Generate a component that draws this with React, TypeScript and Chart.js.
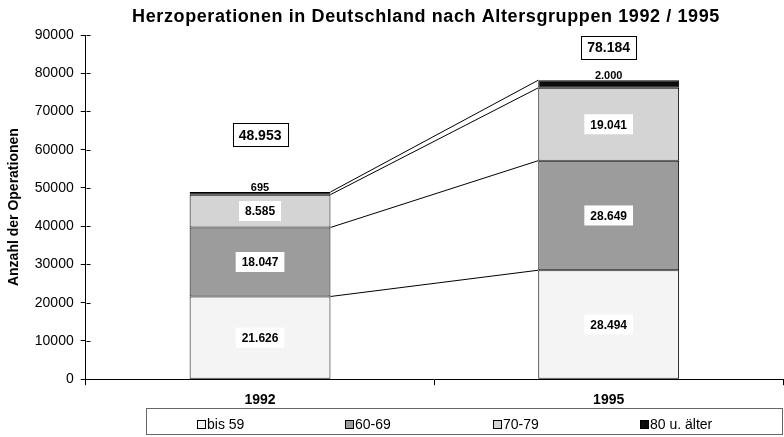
import React, { useEffect, useRef } from "react";
import { Chart, registerables } from "chart.js";

Chart.register(...registerables);

const categories = ["1992", "1995"];
const seriesLabels = ["bis 59", "60-69", "70-79", "80 u. älter"];
const bis59 = [21626, 28494];
const age6069 = [18047, 28649];
const age7079 = [8585, 19041];
const age80 = [695, 2000];
const totals = [48953, 78184];
const seriesColors = ["#f4f4f4", "#9c9c9c", "#d4d4d4", "#0c0c0c"];

const FONT = "'Liberation Sans', Arial, sans-serif";

const fmt = (v: number) => String(v).replace(/\B(?=(\d{3})+(?!\d))/g, ".");

const overlay = {
  id: "overlay",
  afterDatasetsDraw(chart: any) {
    const ctx = chart.ctx as CanvasRenderingContext2D;
    const area = chart.chartArea;
    const yScale = chart.scales.y;
    const n = chart.data.datasets.length;
    ctx.save();
    ctx.strokeStyle = "#000";
    ctx.lineWidth = 1;
    for (let i = 0; i < n; i++) {
      const meta = chart.getDatasetMeta(i);
      const a = meta.data[0].getProps(["x", "y", "width"], true);
      const b = meta.data[1].getProps(["x", "y", "width"], true);
      ctx.beginPath();
      ctx.moveTo(a.x + a.width / 2, a.y);
      ctx.lineTo(b.x - b.width / 2, b.y);
      ctx.stroke();
    }
    for (let i = 0; i < n; i++) {
      const meta = chart.getDatasetMeta(i);
      const vals = chart.data.datasets[i].data as number[];
      meta.data.forEach((el: any, j: number) => {
        const p = el.getProps(["x", "y", "base"], true);
        const txt = fmt(vals[j]);
        if (i < n - 1) {
          ctx.font = `bold 12px ${FONT}`;
          const w = ctx.measureText(txt).width + 12;
          const h = 20;
          const cy = (p.y + p.base) / 2;
          ctx.fillStyle = "#fff";
          ctx.fillRect(p.x - w / 2, cy - h / 2, w, h);
          ctx.fillStyle = "#000";
          ctx.textAlign = "center";
          ctx.textBaseline = "middle";
          ctx.fillText(txt, p.x, cy + 1);
        } else {
          ctx.font = `bold 11px ${FONT}`;
          ctx.fillStyle = "#000";
          ctx.textAlign = "center";
          ctx.textBaseline = "bottom";
          ctx.fillText(txt, p.x, p.y + 1);
        }
      });
    }
    const topMeta = chart.getDatasetMeta(n - 1);
    const offsets = [57, 33];
    topMeta.data.forEach((el: any, j: number) => {
      const p = el.getProps(["x", "y"], true);
      const txt = fmt(totals[j]);
      ctx.font = `bold 14px ${FONT}`;
      const w = Math.round(ctx.measureText(txt).width + 12);
      const h = 23;
      const cy = p.y - offsets[j];
      const lx = Math.round(p.x - w / 2) + 0.5;
      const ty = Math.round(cy - h / 2) + 0.5;
      ctx.fillStyle = "#fff";
      ctx.fillRect(lx, ty, w, h);
      ctx.strokeStyle = "#000";
      ctx.lineWidth = 1;
      ctx.strokeRect(lx, ty, w, h);
      ctx.fillStyle = "#000";
      ctx.textAlign = "center";
      ctx.textBaseline = "middle";
      ctx.fillText(txt, p.x, cy + 1);
    });
    const ax = Math.round(area.left) + 0.5;
    ctx.strokeStyle = "#000";
    yScale.ticks.forEach((t: any) => {
      const yy = Math.round(yScale.getPixelForValue(t.value)) + 0.5;
      ctx.beginPath();
      ctx.moveTo(ax, yy);
      ctx.lineTo(ax + 4, yy);
      ctx.stroke();
    });
    ctx.restore();
  },
  afterDraw(chart: any) {
    const ctx = chart.ctx as CanvasRenderingContext2D;
    ctx.save();
    ctx.font = `bold 18px ${FONT}`;
    (ctx as any).letterSpacing = "0.6px";
    ctx.fillStyle = "#000";
    ctx.textAlign = "center";
    ctx.textBaseline = "middle";
    ctx.fillText("Herzoperationen in Deutschland nach Altersgruppen 1992 / 1995", 426, 17);
    (ctx as any).letterSpacing = "0px";
    ctx.strokeStyle = "#666";
    ctx.lineWidth = 1;
    ctx.strokeRect(146.5, 408.5, 636, 26);
    const xs = [197, 345, 493, 640];
    ctx.font = `14px ${FONT}`;
    ctx.textAlign = "left";
    chart.data.datasets.forEach((ds: any, i: number) => {
      const x = xs[i];
      ctx.fillStyle = ds.backgroundColor;
      ctx.fillRect(x, 420, 9, 9);
      ctx.strokeStyle = "#000";
      ctx.strokeRect(x + 0.5, 420.5, 8, 8);
      ctx.fillStyle = "#000";
      ctx.textBaseline = "middle";
      ctx.fillText(ds.label, x + 10, 425);
    });
    ctx.restore();
  },
};

export default function App() {
  const ref = useRef<HTMLCanvasElement>(null);
  useEffect(() => {
    document.body.style.margin = "0";
    const series = [bis59, age6069, age7079, age80];
    const chart = new Chart(ref.current!, {
      type: "bar",
      data: {
        labels: categories,
        datasets: series.map((d, i) => ({
          label: seriesLabels[i],
          data: d,
          backgroundColor: seriesColors[i],
          borderColor: "#000",
          borderWidth: 1,
          borderSkipped: false,
          barPercentage: 0.404,
          categoryPercentage: 1,
        })),
      },
      options: {
        animation: false,
        responsive: true,
        maintainAspectRatio: false,
        layout: { padding: { top: 35, left: 6, right: 1, bottom: 21 } },
        plugins: {
          legend: { display: false },
          title: { display: false },
          tooltip: { enabled: false },
        },
        scales: {
          x: {
            stacked: true,
            grid: { display: true, drawOnChartArea: false, offset: true, color: "#000", tickLength: 6 },
            border: { color: "#000", width: 1 },
            ticks: { color: "#000", font: { family: FONT, size: 14, weight: "bold" }, padding: 7 },
          },
          y: {
            stacked: true,
            min: 0,
            max: 90000,
            grid: { display: true, drawOnChartArea: false, color: "#000", tickLength: 5 },
            border: { color: "#000", width: 1 },
            ticks: {
              stepSize: 10000,
              color: "#000",
              font: { family: FONT, size: 14 },
              padding: 7,
              callback: (v: any) => String(v),
            },
            title: {
              display: true,
              text: "Anzahl der Operationen",
              color: "#000",
              font: { family: FONT, size: 14, weight: "bold" },
              padding: { top: 0, bottom: 5 },
            },
          },
        },
      },
      plugins: [overlay],
    });
    return () => chart.destroy();
  }, []);
  return (
    <div style={{ width: 784, height: 437, position: "relative" }}>
      <canvas ref={ref} />
    </div>
  );
}
